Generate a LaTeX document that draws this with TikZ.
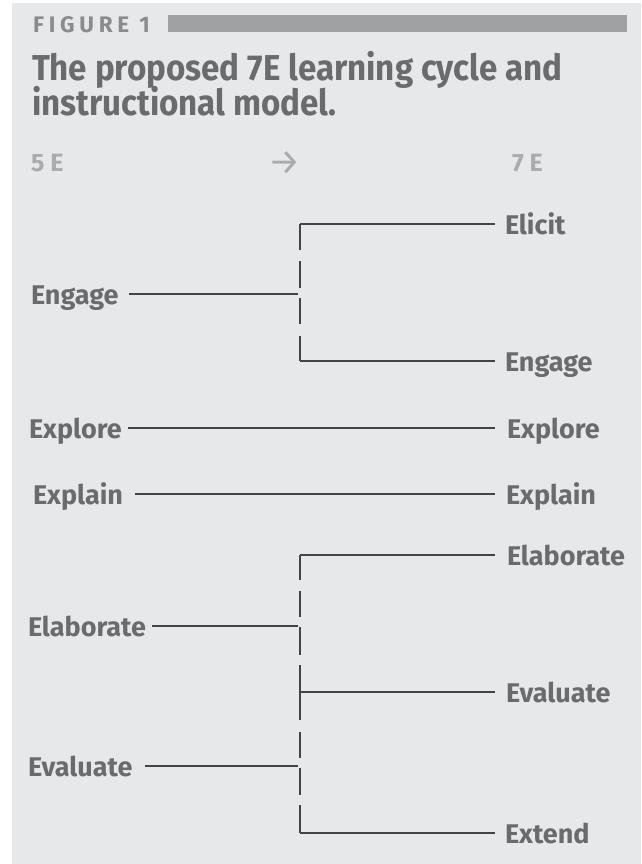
\documentclass[tikz,border=0pt]{standalone}
\usepackage{fontspec}
\setmainfont{Fira Sans}
\newfontfamily\figfont[LetterSpace=21]{Fira Sans}
\newfontfamily\titfont[FakeStretch=0.92]{Fira Sans}
\definecolor{bggray}{HTML}{E7E8E9}
\definecolor{txtgray}{HTML}{6A6B6E}
\definecolor{figgray}{HTML}{8A8B8E}
\definecolor{bargray}{HTML}{A0A1A3}
\definecolor{ligray}{HTML}{A9ABAE}
\definecolor{linegray}{HTML}{434446}
\begin{document}
\begin{tikzpicture}[x=1pt,y=-1pt,
  lbl/.style={anchor=base west,inner sep=0pt,outer sep=0pt,text=txtgray,font=\fontsize{27}{27}\selectfont\bfseries},
  hdr/.style={anchor=base west,inner sep=0pt,outer sep=0pt,text=ligray,font=\fontsize{25}{25}\selectfont\bfseries},
  ttl/.style={anchor=base west,inner sep=0pt,outer sep=0pt,text=txtgray,font=\titfont\fontsize{36}{36}\selectfont\bfseries},
  conn/.style={draw=linegray,line width=2.8pt},
  brk/.style={draw=linegray,line width=2.6pt}]
\useasboundingbox (0,0) rectangle (641,864);
\fill[white] (0,0) rectangle (641,864);
\fill[bggray] (12,3) rectangle (641,864);
% header
\node[anchor=base west,inner sep=0pt,text=figgray,font=\figfont\fontsize{22.5}{22.5}\selectfont\bfseries] (fig) at (33,33) {FIGURE 1};
\fill[bargray] (168,15) rectangle (627,32);
\node[ttl] (t1) at (32,81) {The proposed 7E learning cycle and};
\node[ttl] (t2) at (32,116) {instructional model.};
\node[hdr] (h5) at (31,171) {5 E};
\node[anchor=base west,inner sep=0pt,text=ligray,font=\fontsize{36}{36}\selectfont] (harr) at (268,174) {→};
\node[hdr] (h7) at (512,171) {7 E};
% left labels
\node[lbl] (Lengage) at (31,304) {Engage};
\node[lbl] (Lexplore) at (29,438) {Explore};
\node[lbl] (Lexplain) at (33,504) {Explain};
\node[lbl] (Lelab) at (28,636) {Elaborate};
\node[lbl] (Leval) at (28,776) {Evaluate};
% right labels
\node[lbl] (Relicit) at (505,234) {Elicit};
\node[lbl] (Rengage) at (505,371) {Engage};
\node[lbl] (Rexplore) at (507,438) {Explore};
\node[lbl] (Rexplain) at (506,504) {Explain};
\node[lbl] (Relab) at (507,565) {Elaborate};
\node[lbl] (Reval) at (506,702) {Evaluate};
\node[lbl] (Rextend) at (505,843) {Extend};
% junction coordinates
\coordinate (a1) at (300,224);
\coordinate (a2) at (300,361);
\coordinate (ja) at (298,294);
\coordinate (b1) at (300,555);
\coordinate (b2) at (300,833);
\coordinate (jb1) at (298,626);
\coordinate (jb2) at (300,692);
\coordinate (jb3) at (298,766);
% brackets (vertical, broken)
\draw[brk,dash pattern=on 26pt off 11pt on 27pt off 10pt on 26pt off 12pt on 40pt] (a1) -- (a2);
\draw[brk,dash pattern=on 25pt off 11pt on 26pt off 10pt on 28pt off 10pt on 55pt off 12pt on 26pt off 10pt on 27pt off 10pt on 40pt] (b1) -- (b2);
% connectors
\draw[conn] ([xshift=11pt,yshift=10pt]Lengage.base east) -- (ja);
\draw[conn] (a1) -- ([xshift=-10pt,yshift=10pt]Relicit.base west);
\draw[conn] (a2) -- ([xshift=-10pt,yshift=10pt]Rengage.base west);
\draw[conn] ([xshift=6pt,yshift=10pt]Lexplore.base east) -- ([xshift=-12pt,yshift=10pt]Rexplore.base west);
\draw[conn] ([xshift=12pt,yshift=10pt]Lexplain.base east) -- ([xshift=-11pt,yshift=10pt]Rexplain.base west);
\draw[conn] ([xshift=6pt,yshift=10pt]Lelab.base east) -- (jb1);
\draw[conn] ([xshift=12pt,yshift=10pt]Leval.base east) -- (jb3);
\draw[conn] (b1) -- ([xshift=-12pt,yshift=10pt]Relab.base west);
\draw[conn] (jb2) -- ([xshift=-11pt,yshift=10pt]Reval.base west);
\draw[conn] (b2) -- ([xshift=-10pt,yshift=10pt]Rextend.base west);
\end{tikzpicture}
\end{document}
